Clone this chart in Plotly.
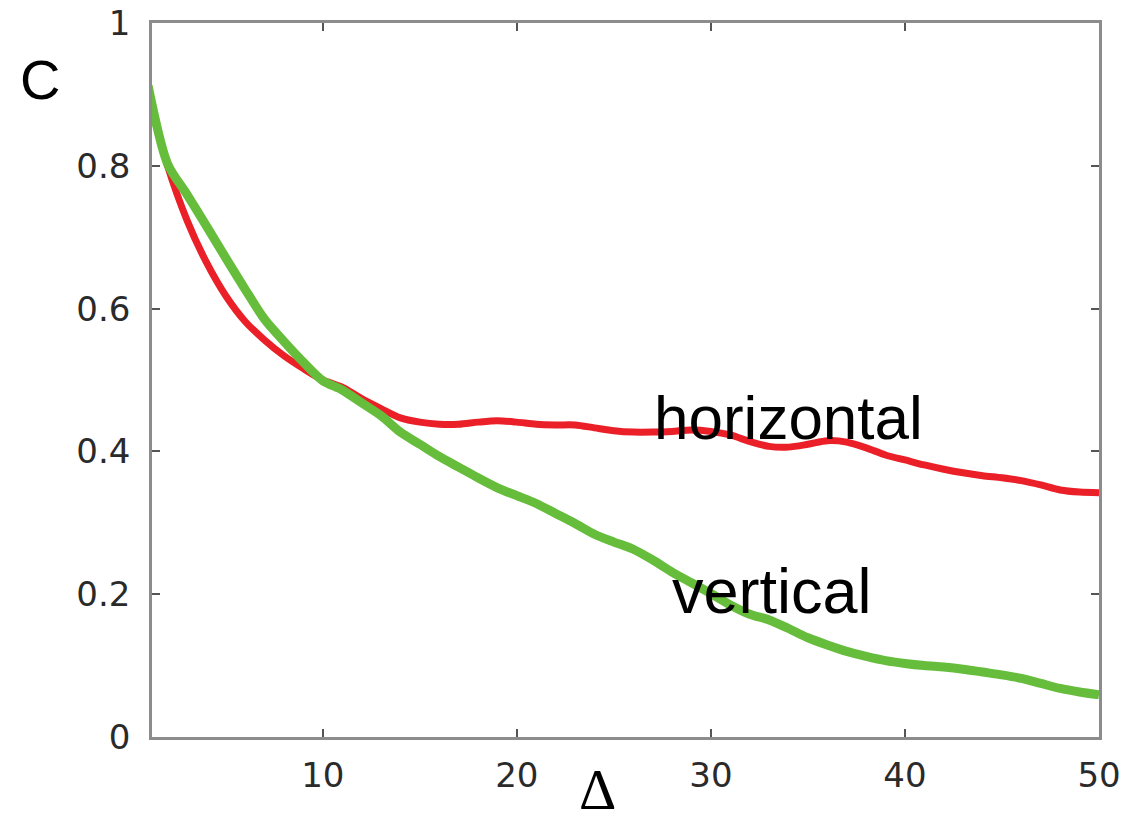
import plotly.graph_objects as go

# Correlation C as a function of the separation delta, for the two directions
delta = list(range(1, 51))

c_horizontal = [
    0.900, 0.800, 0.724, 0.665, 0.618, 0.582, 0.556, 0.534, 0.516, 0.500,
    0.490, 0.474, 0.460, 0.447, 0.441, 0.438, 0.438, 0.441, 0.443, 0.441,
    0.438, 0.437, 0.437, 0.433, 0.429, 0.427, 0.427, 0.428, 0.430, 0.428,
    0.423, 0.414, 0.407, 0.406, 0.410, 0.415, 0.413, 0.405, 0.395, 0.388,
    0.381, 0.375, 0.370, 0.366, 0.363, 0.359, 0.353, 0.346, 0.343, 0.342,
]

c_vertical = [
    0.912, 0.803, 0.760, 0.716, 0.671, 0.627, 0.585, 0.554, 0.525, 0.499,
    0.486, 0.468, 0.450, 0.427, 0.410, 0.393, 0.378, 0.363, 0.349, 0.338,
    0.327, 0.313, 0.299, 0.284, 0.273, 0.263, 0.248, 0.231, 0.216, 0.201,
    0.185, 0.172, 0.164, 0.152, 0.139, 0.129, 0.120, 0.113, 0.107, 0.103,
    0.100, 0.098, 0.095, 0.091, 0.087, 0.082, 0.075, 0.068, 0.063, 0.059,
]

x_ticks = [10, 20, 30, 40, 50]
y_ticks = [0, 0.2, 0.4, 0.6, 0.8, 1]
y_tick_text = ["0", "0.2", "0.4", "0.6", "0.8", "1"]

RED = "#ea1f27"
GREEN = "#66bd3c"

fig = go.Figure()
fig.add_trace(go.Scatter(
    x=delta, y=c_horizontal, mode="lines",
    line=dict(color=RED, width=7, shape="spline", smoothing=0.8),
    name="horizontal", showlegend=False,
))
fig.add_trace(go.Scatter(
    x=delta, y=c_vertical, mode="lines",
    line=dict(color=GREEN, width=9, shape="spline", smoothing=0.8),
    name="vertical", showlegend=False,
))

axis_common = dict(
    showline=True, linecolor="#8c8c8c", linewidth=2.5, mirror="ticks",
    ticks="inside", ticklen=8, tickwidth=2, tickcolor="#555555",
    showgrid=False, zeroline=False, automargin=False,
    tickfont=dict(family="DejaVu Sans", size=34, color="#2a2a2a"),
)

fig.update_xaxes(range=[1.2, 50], tickvals=x_ticks, ticklabelstandoff=6, **axis_common)
fig.update_yaxes(range=[0, 1], tickvals=y_ticks, ticktext=y_tick_text,
                 ticklabelstandoff=12, **axis_common)

label_font = dict(family="Liberation Sans", size=62, color="#000000")
fig.add_annotation(text="horizontal", xref="paper", yref="paper",
                   x=0.672, y=0.448, xanchor="center", yanchor="middle",
                   showarrow=False, font=label_font)
fig.add_annotation(text="vertical", xref="paper", yref="paper",
                   x=0.655, y=0.2045, xanchor="center", yanchor="middle",
                   showarrow=False, font=dict(family="Liberation Sans", size=63, color="#000000"))
fig.add_annotation(text="C", xref="paper", yref="paper",
                   x=-0.118, y=0.921, xanchor="center", yanchor="middle",
                   showarrow=False, font=dict(family="Liberation Sans", size=56, color="#000000"))
fig.add_annotation(text="Δ", xref="paper", yref="paper",
                   x=0.470, y=-0.1204, xanchor="center", yanchor="bottom",
                   borderpad=0, showarrow=False,
                   font=dict(family="Liberation Serif", size=58, color="#000000"))

fig.update_layout(
    width=1126, height=823,
    margin=dict(l=152, r=27, t=23, b=86),
    paper_bgcolor="white", plot_bgcolor="white",
)

fig.write_html("out.html")
